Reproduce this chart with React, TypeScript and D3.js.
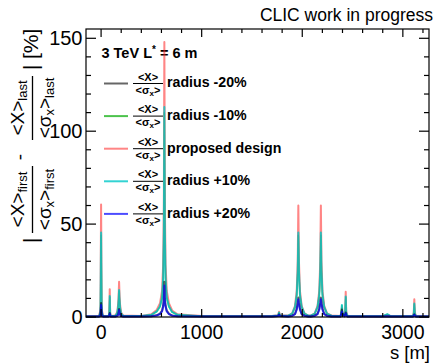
import React from "react";
import * as d3 from "d3";

// s positions [m]
const S = [
  -150, -20, -6, 0, 6, 20,
  76, 82, 86, 90, 96,
  140, 160, 170, 176, 179, 182, 188, 198, 220,
  400, 500, 553, 586, 606, 617, 624, 629, 634, 641, 653, 674, 706, 760,
  1000, 1700, 1760, 1769, 1778,
  1860, 1900, 1928, 1945, 1955, 1961, 1967, 1977, 1994, 2022, 2060,
  2084, 2124, 2152, 2169, 2179, 2185, 2191, 2201, 2218, 2246, 2290,
  2380, 2388, 2394, 2400, 2420, 2427, 2432, 2437, 2450,
  2800, 2846, 2880,
  3100, 3109, 3114, 3119, 3130, 3260,
];

const proposed = [
  0.3, 0.5, 4, 60.5, 4, 0.5,
  0.6, 2.5, 15, 2.5, 0.6,
  0.8, 2.5, 7, 14, 19, 14, 7, 2.5, 0.8,
  0.6, 1.5, 3.8, 7.5, 14, 28, 60, 148, 60, 28, 14, 7.5, 3.5, 1.5,
  0.5, 0.6, 1, 2.8, 1,
  0.8, 2, 6, 14, 30, 60, 30, 14, 6, 2, 0.8,
  0.8, 2, 6, 14, 30, 60, 30, 14, 6, 2, 0.8,
  0.6, 2, 5, 2, 0.8, 3, 13.6, 3, 0.6,
  0.4, 1.2, 0.4,
  0.5, 2.5, 9.5, 2.5, 0.5, 0.3,
];

const radiusP10 = [
  0.3, 0.4, 3, 45.5, 3, 0.4,
  0.5, 2, 11.3, 2, 0.5,
  0.6, 2, 5.5, 10.5, 14.5, 10.5, 5.5, 2, 0.6,
  0.5, 1.2, 3, 5.8, 10.5, 21, 46, 113, 46, 21, 10.5, 5.8, 2.7, 1.2,
  0.4, 0.5, 0.8, 2.4, 0.8,
  0.7, 1.8, 5.5, 12, 25, 45.5, 25, 12, 5.5, 1.8, 0.7,
  0.7, 1.8, 5.5, 12, 25, 45.5, 25, 12, 5.5, 1.8, 0.7,
  0.5, 2, 6.5, 2, 0.7, 2.5, 11, 2.5, 0.5,
  0.4, 1.5, 0.4,
  0.4, 2, 7.3, 2, 0.4, 0.3,
];

const radiusM10 = [
  0.3, 0.4, 2.9, 44, 2.9, 0.4,
  0.5, 1.9, 10.8, 1.9, 0.5,
  0.6, 1.9, 5.3, 10.1, 14, 10.1, 5.3, 1.9, 0.6,
  0.5, 1.1, 2.9, 5.6, 10.1, 20.3, 44.5, 110, 44.5, 20.3, 10.1, 5.6, 2.6, 1.1,
  0.4, 0.5, 0.8, 2.3, 0.8,
  0.7, 1.7, 5.3, 11.6, 24, 44, 24, 11.6, 5.3, 1.7, 0.7,
  0.7, 1.7, 5.3, 11.6, 24, 44, 24, 11.6, 5.3, 1.7, 0.7,
  0.5, 1.9, 6.2, 1.9, 0.7, 2.4, 10.6, 2.4, 0.5,
  0.4, 1.4, 0.4,
  0.4, 1.9, 7, 1.9, 0.4, 0.3,
];

const radiusP20 = [
  0.3, 0.3, 1, 6.5, 1, 0.3,
  0.3, 0.6, 1.8, 0.6, 0.3,
  0.3, 0.5, 1.2, 2.5, 3.8, 2.5, 1.2, 0.5, 0.3,
  0.3, 0.4, 0.8, 1.6, 3, 5.5, 9, 17, 9, 5.5, 3, 1.6, 0.7, 0.4,
  0.3, 0.3, 0.5, 1.2, 0.5,
  0.3, 0.6, 1.5, 4, 7, 9.5, 7, 4, 1.5, 0.6, 0.3,
  0.3, 0.6, 1.5, 4, 7, 9.5, 7, 4, 1.5, 0.6, 0.3,
  0.3, 1.5, 3, 1.5, 0.4, 0.8, 2, 0.8, 0.3,
  0.3, 0.4, 0.3,
  0.3, 0.6, 1.2, 0.6, 0.3, 0.3,
];

const radiusM20 = [
  0.3, 0.3, 1.2, 7.5, 1.2, 0.3,
  0.3, 0.7, 2.1, 0.7, 0.3,
  0.3, 0.6, 1.4, 2.9, 4.3, 2.9, 1.4, 0.6, 0.3,
  0.3, 0.4, 0.9, 1.8, 3.4, 6.2, 10, 19, 10, 6.2, 3.4, 1.8, 0.8, 0.4,
  0.3, 0.3, 0.6, 1.4, 0.6,
  0.3, 0.7, 1.7, 4.5, 8, 10.5, 8, 4.5, 1.7, 0.7, 0.3,
  0.3, 0.7, 1.7, 4.5, 8, 10.5, 8, 4.5, 1.7, 0.7, 0.3,
  0.3, 1.8, 4, 1.8, 0.4, 1, 2.4, 1, 0.3,
  0.3, 0.4, 0.3,
  0.3, 0.7, 1.4, 0.7, 0.3, 0.3,
];

const xTickLabels = [0, 1000, 2000, 3000];
const yTickLabels = [0, 50, 100, 150];

const legendLabels = ["radius -20%", "radius -10%", "proposed design", "radius +10%", "radius +20%"];
const legendColors = ["#000000", "#00aa00", "#ff2020", "#00c8c8", "#0000ff"];
const legendSeries = [radiusM20, radiusM10, proposed, radiusP10, radiusP20];
const legendOpacity = [0.6, 0.7, 0.55, 0.8, 0.7];
const curveWidth = [2, 1.4, 2, 2, 2];
// drawing order of the curves (indices into legend arrays)
const drawOrder = [1, 2, 3, 0, 4];

const FONT = "'Liberation Sans', Arial, Helvetica, sans-serif";

export default function App() {
  const W = 439, H = 363;
  const L = 86, R = 429, T = 29, B = 317;
  const x = d3.scaleLinear().domain([-150, 3260]).range([L, R]);
  const y = d3.scaleLinear().domain([0, 155]).range([B, T]);

  const xMinor = d3.range(0, 3261, 200);
  const yMinor = d3.range(0, 156, 10);

  const line = d3
    .line<number>()
    .x((_, i) => x(S[i]))
    .y((d) => y(d));

  const legY0 = 83.5, legStep = 32.6;

  const frac = (cx: number, sub: string) => (
    <g>
      <text x={cx} y={24} textAnchor="middle" fontSize={19}>
        {"<X>"}
        <tspan fontSize={13} dy={3}>{sub}</tspan>
      </text>
      <text x={cx} y={51} textAnchor="middle" fontSize={19}>
        {"<σ"}
        <tspan fontSize={13} dy={3}>x</tspan>
        <tspan fontSize={19} dy={-3}>{">"}</tspan>
        <tspan fontSize={13} dy={3}>{sub}</tspan>
      </text>
    </g>
  );

  return (
    <svg
      width={W}
      height={H}
      style={{ position: "absolute", left: 0, top: 0, background: "#fff" }}
      fontFamily={FONT}
    >
      <rect x={0} y={0} width={W} height={H} fill="#fff" />
      {/* header */}
      <text x={433} y={21} textAnchor="end" fontSize={17.5} fill="#000">
        CLIC work in progress
      </text>

      {/* legend */}
      <text x={101.5} y={58} fontWeight="bold" fontSize={14.5}>
        3 TeV L<tspan dy={-5} fontSize={10}>*</tspan>
        <tspan dy={5}> = 6 m</tspan>
      </text>
      {legendLabels.map((lab, i) => {
        const ly = legY0 + i * legStep;
        return (
          <g key={lab}>
            <line x1={104} x2={128} y1={ly} y2={ly} stroke={legendColors[i]} strokeOpacity={legendOpacity[i]} strokeWidth={2} />
            <text x={148} y={ly - 3} textAnchor="middle" fontWeight="bold" fontSize={11}>
              {"<X>"}
            </text>
            <line x1={133} x2={163} y1={ly} y2={ly} stroke="#000" strokeWidth={1} />
            <text x={148} y={ly + 10} textAnchor="middle" fontWeight="bold" fontSize={11}>
              {"<σ"}
              <tspan fontSize={8} dy={2}>x</tspan>
              <tspan fontSize={11} dy={-2}>{">"}</tspan>
            </text>
            <text x={167} y={ly + 3.8} fontWeight="bold" fontSize={14.2}>
              {lab}
            </text>
          </g>
        );
      })}

      {/* curves */}
      <g fill="none">
        {drawOrder.map((i) => (
          <path
            key={i}
            d={line(legendSeries[i]) || ""}
            stroke={legendColors[i]}
            strokeOpacity={legendOpacity[i]}
            strokeWidth={curveWidth[i]}
            strokeLinejoin="round"
          />
        ))}
      </g>

      {/* frame */}
      <rect x={L} y={T} width={R - L} height={B - T} fill="none" stroke="#000" strokeWidth={1.2} />
      {/* x ticks */}
      {xMinor.map((v) => {
        const major = v % 1000 === 0;
        const len = major ? 8 : 4;
        return (
          <g key={"x" + v}>
            <line x1={x(v)} x2={x(v)} y1={B} y2={B - len} stroke="#000" strokeWidth={1.2} />
            <line x1={x(v)} x2={x(v)} y1={T} y2={T + len} stroke="#000" strokeWidth={1.2} />
          </g>
        );
      })}
      {yMinor.map((v) => {
        const major = v % 50 === 0;
        const len = major ? 10 : 5;
        return (
          <g key={"y" + v}>
            <line x1={L} x2={L + len} y1={y(v)} y2={y(v)} stroke="#000" strokeWidth={1.2} />
            <line x1={R} x2={R - len} y1={y(v)} y2={y(v)} stroke="#000" strokeWidth={1.2} />
          </g>
        );
      })}
      {xTickLabels.map((v) => (
        <text key={"xl" + v} x={x(v)} y={338.5} textAnchor="middle" fontSize={19.5}>
          {v}
        </text>
      ))}
      {yTickLabels.map((v) => (
        <text key={"yl" + v} x={82.5} y={y(v)} dy="0.36em" textAnchor="end" fontSize={20}>
          {v}
        </text>
      ))}
      <text x={430} y={359} textAnchor="end" fontSize={18.5}>
        s [m]
      </text>

      {/* y-axis title */}
      <g transform="translate(0,245) rotate(-90)">
        <text x={2} y={38} fontSize={21}>|</text>
        <line x1={12} x2={79} y1={32.5} y2={32.5} stroke="#000" strokeWidth={1.3} />
        {frac(45.5, "first")}
        <text x={88} y={26} textAnchor="middle" fontSize={19}>-</text>
        <line x1={105} x2={169} y1={32.5} y2={32.5} stroke="#000" strokeWidth={1.3} />
        {frac(137, "last")}
        <text x={175} y={38} fontSize={21}>|</text>
        <text x={186} y={38} fontSize={21}>[%]</text>
      </g>
    </svg>
  );
}
